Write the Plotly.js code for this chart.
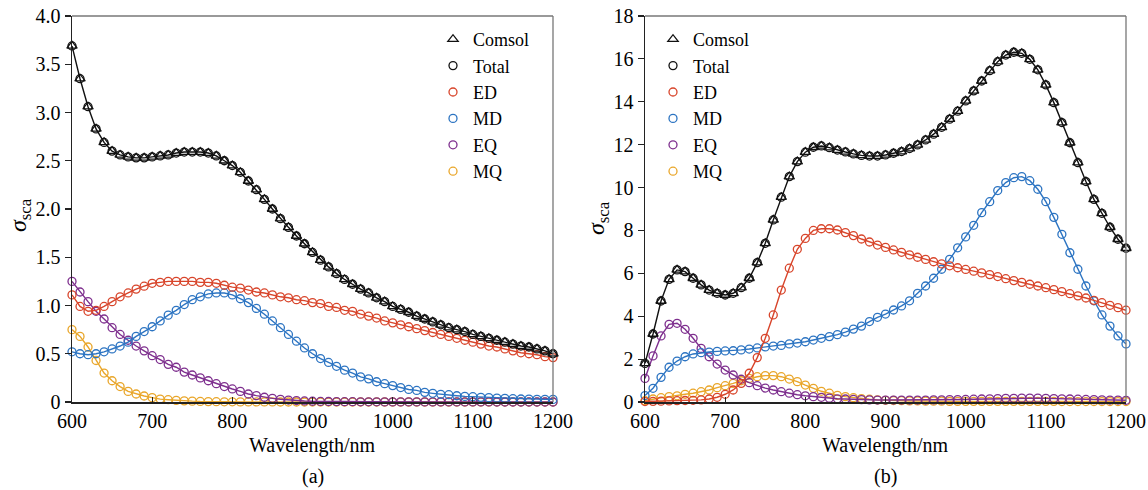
<!DOCTYPE html>
<html>
<head>
<meta charset="utf-8">
<script src="https://cdn.plot.ly/plotly-3.0.1.min.js"></script>
<style>html,body{margin:0;padding:0;background:#fff;}#chart{width:1148px;height:490px;}</style>
</head>
<body>
<div id="chart"></div>
<script>
// Wavelength (nm)
const wavelength = [600,610,620,630,640,650,660,670,680,690,
  700,710,720,730,740,750,760,770,780,790,
  800,810,820,830,840,850,860,870,880,890,
  900,910,920,930,940,950,960,970,980,990,
  1000,1010,1020,1030,1040,1050,1060,1070,1080,1090,
  1100,1110,1120,1130,1140,1150,1160,1170,1180,1190,
  1200];

// Panel (a)
const comsolA = [3.69,3.35,3.06,2.83,2.69,2.60,2.56,2.54,2.53,2.53,
  2.54,2.55,2.56,2.58,2.59,2.59,2.59,2.58,2.55,2.50,
  2.45,2.38,2.29,2.20,2.10,2.00,1.90,1.81,1.72,1.64,
  1.55,1.47,1.40,1.33,1.27,1.22,1.17,1.13,1.08,1.04,
  0.99,0.96,0.93,0.89,0.86,0.83,0.80,0.77,0.75,0.73,
  0.70,0.68,0.66,0.64,0.62,0.60,0.58,0.57,0.55,0.53,
  0.50];
const totalA = [3.69,3.35,3.06,2.83,2.69,2.60,2.56,2.54,2.53,2.53,
  2.54,2.55,2.56,2.58,2.59,2.59,2.59,2.58,2.55,2.50,
  2.45,2.38,2.29,2.20,2.10,2.00,1.90,1.81,1.72,1.64,
  1.55,1.47,1.40,1.33,1.27,1.22,1.17,1.13,1.08,1.04,
  0.99,0.96,0.93,0.89,0.86,0.83,0.80,0.77,0.75,0.73,
  0.70,0.68,0.66,0.64,0.62,0.60,0.58,0.57,0.55,0.53,
  0.50];
const edA = [1.11,0.99,0.94,0.95,0.99,1.04,1.09,1.13,1.17,1.20,
  1.23,1.24,1.25,1.25,1.25,1.25,1.24,1.24,1.23,1.21,
  1.19,1.18,1.16,1.14,1.13,1.11,1.09,1.08,1.06,1.05,
  1.03,1.02,0.99,0.98,0.95,0.94,0.91,0.89,0.87,0.84,
  0.82,0.80,0.78,0.76,0.74,0.72,0.70,0.68,0.66,0.64,
  0.62,0.60,0.58,0.57,0.55,0.53,0.51,0.50,0.49,0.47,
  0.46];
const mdA = [0.52,0.50,0.49,0.50,0.52,0.55,0.58,0.62,0.68,0.73,
  0.78,0.84,0.90,0.95,1.01,1.06,1.09,1.12,1.13,1.13,
  1.11,1.07,1.03,0.97,0.91,0.84,0.77,0.70,0.63,0.56,
  0.50,0.45,0.41,0.37,0.33,0.30,0.26,0.24,0.21,0.19,
  0.17,0.15,0.13,0.12,0.10,0.09,0.08,0.076,0.065,0.058,
  0.055,0.048,0.045,0.041,0.038,0.034,0.031,0.030,0.028,0.027,
  0.027];
const eqA = [1.25,1.14,1.04,0.94,0.86,0.77,0.70,0.64,0.58,0.53,
  0.48,0.44,0.39,0.36,0.31,0.28,0.25,0.22,0.19,0.16,
  0.135,0.11,0.083,0.066,0.049,0.038,0.028,0.020,0.015,0.011,
  0.008,0.006,0.005,0.004,0.003,0.003,0.002,0.002,0.002,0.001,
  0.001,0.001,0.001,0.001,0.001,0.001,0.001,0.001,0.001,0.001,
  0.001,0.001,0.001,0,0,0,0,0,0,0,
  0];
const mqA = [0.75,0.68,0.57,0.43,0.30,0.22,0.16,0.11,0.083,0.062,
  0.045,0.030,0.024,0.017,0.012,0.009,0.006,0.004,0.003,0.002,
  0.002,0.001,0.001,0.001,0.001,0.001,0,0,0,0,
  0,0,0,0,0,0,0,0,0,0,
  0,0,0,0,0,0,0,0,0,0,
  0,0,0,0,0,0,0,0,0,0,
  0];

// Panel (b)
const comsolB = [1.80,3.17,4.71,5.72,6.16,6.08,5.77,5.46,5.22,5.07,
  4.99,5.07,5.33,5.77,6.50,7.40,8.49,9.55,10.51,11.21,
  11.65,11.88,11.94,11.86,11.75,11.66,11.57,11.50,11.47,11.47,
  11.52,11.60,11.68,11.82,11.99,12.22,12.49,12.81,13.19,13.56,
  14.04,14.51,14.97,15.45,15.87,16.18,16.31,16.26,15.98,15.49,
  14.79,13.96,13.03,12.09,11.16,10.28,9.45,8.80,8.15,7.59,
  7.17];
const totalB = [1.80,3.17,4.71,5.72,6.16,6.08,5.77,5.46,5.22,5.07,
  4.99,5.07,5.33,5.77,6.50,7.40,8.49,9.55,10.51,11.21,
  11.65,11.88,11.94,11.86,11.75,11.66,11.57,11.50,11.47,11.47,
  11.52,11.60,11.68,11.82,11.99,12.22,12.49,12.81,13.19,13.56,
  14.04,14.51,14.97,15.45,15.87,16.18,16.31,16.26,15.98,15.49,
  14.79,13.96,13.03,12.09,11.16,10.28,9.45,8.80,8.15,7.59,
  7.17];
const edB = [0.02,0.03,0.04,0.05,0.06,0.07,0.08,0.10,0.14,0.22,
  0.36,0.56,0.87,1.34,2.07,2.97,4.06,5.22,6.24,7.12,
  7.63,8.00,8.08,8.08,8.02,7.90,7.76,7.60,7.46,7.32,
  7.21,7.09,6.98,6.86,6.75,6.65,6.54,6.44,6.35,6.26,
  6.18,6.10,6.02,5.94,5.85,5.75,5.66,5.58,5.49,5.41,
  5.33,5.24,5.15,5.05,4.95,4.85,4.74,4.63,4.51,4.40,
  4.28];
const mdB = [0.30,0.64,1.15,1.62,1.91,2.11,2.24,2.30,2.33,2.36,
  2.38,2.39,2.43,2.47,2.52,2.57,2.61,2.64,2.71,2.75,
  2.81,2.89,2.97,3.05,3.14,3.26,3.40,3.54,3.75,3.95,
  4.10,4.29,4.48,4.72,5.07,5.41,5.77,6.19,6.65,7.19,
  7.70,8.24,8.83,9.34,9.86,10.23,10.46,10.51,10.32,9.92,
  9.34,8.61,7.82,6.96,6.19,5.41,4.72,4.06,3.54,3.08,
  2.71];
const eqB = [1.10,2.15,3.08,3.62,3.67,3.39,2.97,2.50,2.11,1.77,
  1.49,1.26,1.06,0.90,0.76,0.65,0.56,0.48,0.41,0.34,
  0.29,0.25,0.22,0.18,0.15,0.14,0.12,0.11,0.10,0.09,
  0.09,0.09,0.09,0.09,0.09,0.09,0.10,0.10,0.11,0.11,
  0.12,0.13,0.14,0.15,0.16,0.17,0.17,0.18,0.18,0.18,
  0.17,0.16,0.15,0.14,0.13,0.12,0.11,0.10,0.09,0.09,
  0.08];
const mqB = [0.06,0.14,0.20,0.25,0.29,0.36,0.41,0.48,0.56,0.67,
  0.76,0.87,0.99,1.10,1.18,1.23,1.23,1.18,1.07,0.95,
  0.79,0.64,0.50,0.41,0.31,0.25,0.20,0.16,0.13,0.10,
  0.08,0.07,0.06,0.05,0.05,0.04,0.04,0.04,0.03,0.03,
  0.03,0.03,0.03,0.03,0.03,0.03,0.03,0.03,0.03,0.03,
  0.03,0.03,0.02,0.02,0.02,0.02,0.02,0.02,0.02,0.02,
  0.02];

const xTicks = [600,700,800,900,1000,1100,1200];
const yTicksA = [0,0.5,1.0,1.5,2.0,2.5,3.0,3.5,4.0];
const yTickTextA = ['0','0.5','1.0','1.5','2.0','2.5','3.0','3.5','4.0'];
const yTicksB = [0,2,4,6,8,10,12,14,16,18];
const yTickTextB = ['0','2','4','6','8','10','12','14','16','18'];

const seriesNames = ['Comsol','Total','ED','MD','EQ','MQ'];
const colors = {Comsol:'#111111', Total:'#111111', ED:'#D8452B', MD:'#2C74C2', EQ:'#7E2F8E', MQ:'#E9A62A'};
const symbols = {Comsol:'triangle-up-open', Total:'circle-open', ED:'circle-open', MD:'circle-open', EQ:'circle-open', MQ:'circle-open'};

const FONT = '"Liberation Serif", "Times New Roman", Times, "DejaVu Serif", serif';
const traces = [];

function addPanel(data, xa, ya, leg) {
  const order = ['MQ','EQ','MD','ED','Total','Comsol'];
  order.forEach(name => {
    const y = data[name];
    if (name !== 'Comsol') {
      traces.push({x: wavelength, y: y, xaxis: xa, yaxis: ya, mode: 'lines', showlegend: false,
        line: {color: colors[name], width: 1.4}, cliponaxis: false, hoverinfo: 'skip'});
    }
    traces.push({x: wavelength, y: y, xaxis: xa, yaxis: ya, mode: 'markers', name: name,
      legend: leg, legendrank: seriesNames.indexOf(name) + 1, cliponaxis: false,
      marker: {symbol: symbols[name], size: name === 'Comsol' ? 9 : 8,
        color: colors[name], line: {color: colors[name], width: 1.3}}});
  });
}
addPanel({Comsol: comsolA, Total: totalA, ED: edA, MD: mdA, EQ: eqA, MQ: mqA}, 'x', 'y', 'legend');
addPanel({Comsol: comsolB, Total: totalB, ED: edB, MD: mdB, EQ: eqB, MQ: mqB}, 'x2', 'y2', 'legend2');

const W = 1148, H = 490;
const px = v => v / W;
const py = v => 1 - v / H;

const axisCommon = {showgrid: false, zeroline: false, showline: true, linecolor: '#222', linewidth: 1.5,
  tickfont: {family: FONT, size: 20, color: '#000'}, tickcolor: '#222', automargin: false};

const xaxisBase = Object.assign({}, axisCommon, {range: [600, 1200], tickmode: 'array', tickvals: xTicks,
  ticks: 'inside', ticklen: 5, tickwidth: 1.2});

const layout = {
  width: W, height: H,
  margin: {l: 0, r: 0, t: 0, b: 0},
  paper_bgcolor: '#fff', plot_bgcolor: '#fff',
  font: {family: FONT, color: '#000'},
  xaxis: Object.assign({}, xaxisBase, {domain: [px(72), px(553)], anchor: 'y'}),
  yaxis: Object.assign({}, axisCommon, {domain: [py(402), py(16)], anchor: 'x', range: [0, 4.0],
    tickmode: 'array', tickvals: yTicksA, ticktext: yTickTextA, ticks: 'outside', ticklen: 6, tickwidth: 1.2}),
  xaxis2: Object.assign({}, xaxisBase, {domain: [px(645), px(1126)], anchor: 'y2'}),
  yaxis2: Object.assign({}, axisCommon, {domain: [py(402), py(16)], anchor: 'x2', range: [0, 18],
    tickmode: 'array', tickvals: yTicksB, ticktext: yTickTextB, ticks: 'outside', ticklen: 6, tickwidth: 1.2}),
  legend: {x: px(433), y: py(21), xanchor: 'left', yanchor: 'top', bgcolor: 'rgba(0,0,0,0)',
    font: {family: FONT, size: 18, color: '#000'}, traceorder: 'normal'},
  legend2: {x: px(653), y: py(21), xanchor: 'left', yanchor: 'top', bgcolor: 'rgba(0,0,0,0)',
    font: {family: FONT, size: 18, color: '#000'}, traceorder: 'normal'},
  shapes: [
    {type: 'line', xref: 'x domain', yref: 'y domain', x0: 0, x1: 1, y0: 1, y1: 1, line: {color: '#777', width: 1.3}},
    {type: 'line', xref: 'x domain', yref: 'y domain', x0: 1, x1: 1, y0: 0, y1: 1, line: {color: '#777', width: 1.3}},
    {type: 'line', xref: 'x2 domain', yref: 'y2 domain', x0: 0, x1: 1, y0: 1, y1: 1, line: {color: '#777', width: 1.3}},
    {type: 'line', xref: 'x2 domain', yref: 'y2 domain', x0: 1, x1: 1, y0: 0, y1: 1, line: {color: '#777', width: 1.3}}
  ],
  annotations: [
    {text: 'Wavelength/nm', xref: 'x domain', x: 0.5, yref: 'paper', y: py(445), showarrow: false,
      xanchor: 'center', yanchor: 'middle', font: {family: FONT, size: 20, color: '#000'}},
    {text: 'Wavelength/nm', xref: 'x2 domain', x: 0.5, yref: 'paper', y: py(445), showarrow: false,
      xanchor: 'center', yanchor: 'middle', font: {family: FONT, size: 20, color: '#000'}},
    {text: '(a)', xref: 'x domain', x: 0.5, yref: 'paper', y: py(476), showarrow: false,
      xanchor: 'center', yanchor: 'middle', font: {family: FONT, size: 20, color: '#000'}},
    {text: '(b)', xref: 'x2 domain', x: 0.5, yref: 'paper', y: py(476), showarrow: false,
      xanchor: 'center', yanchor: 'middle', font: {family: FONT, size: 20, color: '#000'}},
    {text: '<i>σ</i><sub>sca</sub>', xref: 'paper', x: px(20), yref: 'paper', y: py(215), showarrow: false,
      textangle: -90, xanchor: 'center', yanchor: 'middle', font: {family: FONT, size: 24, color: '#000'}},
    {text: '<i>σ</i><sub>sca</sub>', xref: 'paper', x: px(598), yref: 'paper', y: py(218), showarrow: false,
      textangle: -90, xanchor: 'center', yanchor: 'middle', font: {family: FONT, size: 24, color: '#000'}}
  ]
};

Plotly.newPlot('chart', traces, layout, {displayModeBar: false, staticPlot: true});
</script>
</body>
</html>
